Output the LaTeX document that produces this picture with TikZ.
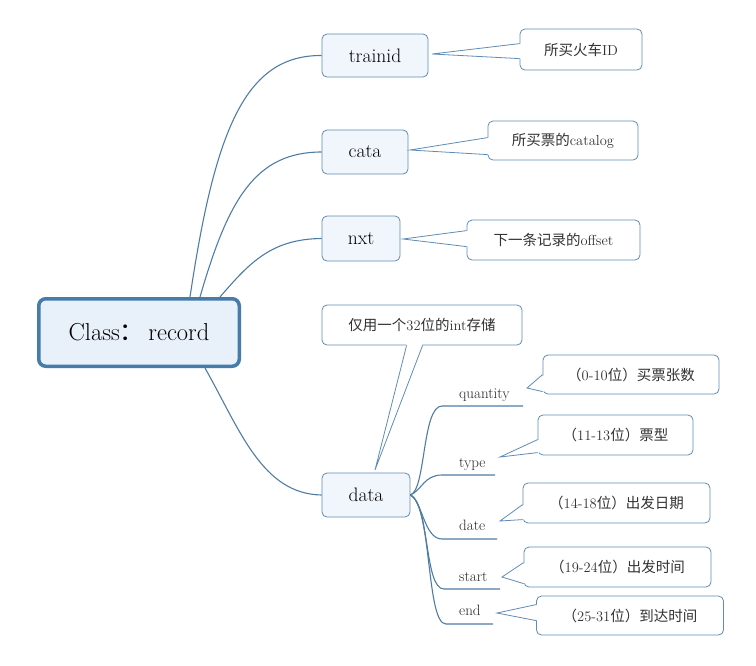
\documentclass[tikz,border=0pt]{standalone}
\usepackage{fontspec}
\newfontfamily\cjk{Noto Sans CJK SC}
\usetikzlibrary{calc}
\definecolor{lc}{RGB}{79,124,163}
\definecolor{rootb}{RGB}{70,124,170}
\definecolor{rootf}{RGB}{232,240,250}
\definecolor{subf}{RGB}{241,246,252}
\definecolor{subb}{RGB}{96,140,180}
\definecolor{txt}{RGB}{50,50,50}
\newcommand\wedgeL[4]{%
  \fill[white] (#2) -- ([xshift=2pt,yshift=-#3]#1.north west) -- ([xshift=2pt,yshift=-#4]#1.north west) -- cycle;
  \draw[callline] ([yshift=-#3]#1.north west) -- (#2) -- ([yshift=-#4]#1.north west);}
\begin{document}
\begin{tikzpicture}[x=1pt,y=-1pt,
  conn/.style={draw=lc,line width=1.1pt},
  rootbox/.style={draw=rootb,fill=rootf,line width=3.5pt,rounded corners=7pt,
    minimum width=200.5pt,minimum height=67.5pt,font=\fontsize{24.5}{28}\selectfont,inner sep=0pt},
  subbox/.style={draw=subb,fill=subf,line width=0.8pt,rounded corners=5pt,
    font=\fontsize{19.5}{22}\selectfont,inner sep=0pt},
  callbox/.style={draw=subb,fill=white,line width=0.8pt,rounded corners=5pt,
    font=\fontsize{14.5}{17}\selectfont,text=txt,inner sep=0pt},
  callline/.style={draw=subb,line width=0.8pt},
  sublabel/.style={anchor=base west,font=\fontsize{15}{17}\selectfont,inner sep=0pt,text=black!85}
]
\useasboundingbox (0,0) rectangle (756,665);

% root
\node[rootbox] (root) at (139,332.5) {Class{\cjk ：}\hspace{4pt}record};

% main topics
\node[subbox,minimum width=106pt,minimum height=43pt] (trainid) at (375,55.5) {trainid};
\node[subbox,minimum width=86pt,minimum height=44pt] (cata) at (365,152) {cata};
\node[subbox,minimum width=78pt,minimum height=45pt] (nxt) at (361,238.5) {nxt};
\node[subbox,minimum width=88pt,minimum height=44pt] (data) at (366,495) {data};

% root connectors
\draw[conn] ($(root.north)+(51,0)$) .. controls (215,130) and (245,55) .. (trainid.west);
\draw[conn] ($(root.north)+(61,0)$) .. controls (228,200) and (255,152) .. (cata.west);
\draw[conn] ($(root.north)+(81,0)$) .. controls (250,262) and (272,239) .. (nxt.west);
\draw[conn] ($(root.south)+(66,0)$) .. controls (240,430) and (262,494) .. (data.west);

% callouts for main topics
\node[callbox,minimum width=122pt,minimum height=41pt] (c1) at (581,49.5) {{\cjk 所买火车}ID};
\coordinate (t1) at (432,54);
\wedgeL{c1}{t1}{15pt}{30pt}

\node[callbox,minimum width=150pt,minimum height=39pt] (c2) at (563,140.5) {{\cjk 所买票的}catalog};
\coordinate (t2) at (410,150);
\wedgeL{c2}{t2}{17pt}{34pt}

\node[callbox,minimum width=173pt,minimum height=40pt] (c3) at (553.5,240) {{\cjk 下一条记录的}offset};
\coordinate (t3) at (403,239);
\wedgeL{c3}{t3}{11pt}{27pt}

% data note callout
\node[callbox,minimum width=200pt,minimum height=40pt] (c4) at (422,325) {{\cjk 仅用一个}32{\cjk 位的}int{\cjk 存储}};
\coordinate (t4) at (375,470);
\fill[white] (t4) -- ([xshift=85pt,yshift=2pt]c4.south west) -- ([xshift=101pt,yshift=2pt]c4.south west) -- cycle;
\draw[callline] ([xshift=85pt]c4.south west) -- (t4) -- ([xshift=101pt]c4.south west);

% data sub branches
\coordinate (u1s) at (442,406); \coordinate (u1e) at (523,406);
\coordinate (u2s) at (442,475); \coordinate (u2e) at (495,475);
\coordinate (u3s) at (442,539); \coordinate (u3e) at (497,539);
\coordinate (u4s) at (444,589); \coordinate (u4e) at (500,589);
\coordinate (u5s) at (446,624); \coordinate (u5e) at (493,624);
\draw[conn] (data.east) .. controls (426,490) and (422,406) .. (u1s) -- (u1e);
\draw[conn] (data.east) .. controls (422,490) and (424,475) .. (u2s) -- (u2e);
\draw[conn] (data.east) .. controls (422,500) and (424,539) .. (u3s) -- (u3e);
\draw[conn] (data.east) .. controls (430,505) and (424,589) .. (u4s) -- (u4e);
\draw[conn] (data.east) .. controls (432,505) and (426,624) .. (u5s) -- (u5e);

\node[sublabel] (l1) at (459,398) {quantity};
\node[sublabel] (l2) at (459,467) {type};
\node[sublabel] (l3) at (459,530) {date};
\node[sublabel] (l4) at (459,581) {start};
\node[sublabel] (l5) at (459,615) {end};

% sub callouts
\node[callbox,minimum width=176pt,minimum height=39pt] (d1) at (631,374.5) {{\cjk （}0-10{\cjk 位）买票张数}};
\coordinate (s1) at (527,388);
\wedgeL{d1}{s1}{20pt}{37pt}

\node[callbox,minimum width=155pt,minimum height=40pt] (d2) at (615.5,435) {{\cjk （}11-13{\cjk 位）票型}};
\coordinate (s2) at (500,457);
\wedgeL{d2}{s2}{25pt}{38pt}

\node[callbox,minimum width=187pt,minimum height=40pt] (d3) at (616.5,503) {{\cjk （}14-18{\cjk 位）出发日期}};
\coordinate (s3) at (500,521);
\wedgeL{d3}{s3}{22pt}{37pt}

\node[callbox,minimum width=187pt,minimum height=40pt] (d4) at (617.5,567) {{\cjk （}19-24{\cjk 位）出发时间}};
\coordinate (s4) at (502,577);
\wedgeL{d4}{s4}{16pt}{37pt}

\node[callbox,minimum width=187pt,minimum height=39pt] (d5) at (630,615.5) {{\cjk （}25-31{\cjk 位）到达时间}};
\coordinate (s5) at (497,613);
\wedgeL{d5}{s5}{9pt}{25pt}
\end{tikzpicture}
\end{document}
